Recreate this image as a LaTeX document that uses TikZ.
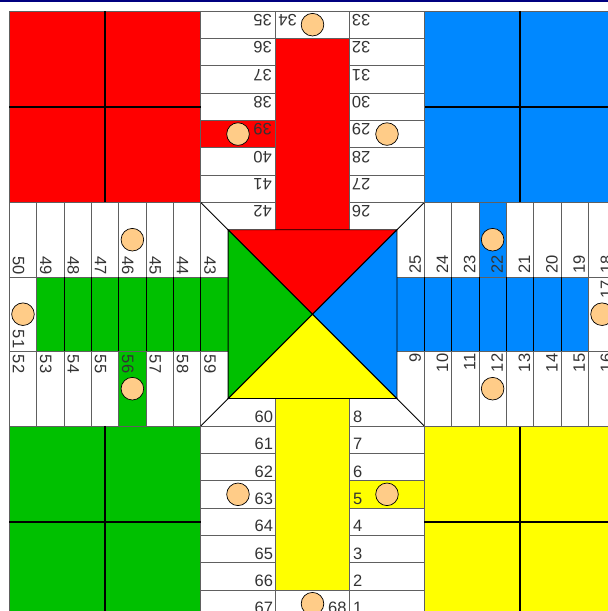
\documentclass[tikz,border=0pt]{standalone}
\usepackage{fontspec}
\setmainfont{Liberation Sans}
\definecolor{pRed}{RGB}{255,0,0}
\definecolor{pBlue}{RGB}{0,136,255}
\definecolor{pGreen}{RGB}{0,192,0}
\definecolor{pYellow}{RGB}{255,255,0}
\definecolor{pSafe}{RGB}{255,204,136}
\definecolor{pNavy}{RGB}{0,0,128}
\definecolor{pLine}{RGB}{96,96,96}
\begin{document}
\begin{tikzpicture}[x=1pt,y=1pt,
  cellline/.style={draw=pLine,line width=0.8pt},
  divline/.style={draw=black,line width=0.8pt},
  homeline/.style={draw=black,line width=2pt},
  edgeline/.style={draw=black,line width=0.8pt},
  safe/.style={circle,draw=black,line width=0.7pt,fill=pSafe,minimum size=22.6pt,inner sep=0pt},
  num/.style={font=\fontsize{16.5}{18}\selectfont,text=black!80,inner sep=0pt,transform shape}]
\useasboundingbox (0,0) rectangle (608,611);
\fill[white] (0,0) rectangle (608,611);
\fill[pNavy] (0,608.7) rectangle (608,611);
\def\s{111.75}\def\c{27.35}\def\w{37.25}\def\H{191.45}
\begin{scope}[shift={(312.5,296.8)}]
% pass 1: fills
\foreach \ang/\col in {0/pYellow,90/pBlue,180/pRed,270/pGreen}{
 \begin{scope}[rotate=\ang]
  \fill[\col] (\s,-\s) rectangle (\s+\H,-\s-\H);
  \fill[\col] (-\w,-\s+\c) rectangle (\w,-\s-6*\c);
  \fill[\col] (\w,-\s-2*\c) rectangle (\s,-\s-3*\c);
  \fill[\col] (-\s+\c,-\s+\c) -- (\s-\c,-\s+\c) -- (0,0) -- cycle;
 \end{scope}}
% pass 2: lines
\foreach \ang/\dv in {0/0,90/1,180/0,270/1}{
 \begin{scope}[rotate=\ang]
  \draw[cellline] (-\s,-\s) -- (-\s,-\s-7*\c);
  \draw[cellline] (\s,-\s) -- (\s,-\s-7*\c);
  \draw[cellline] (-\w,-\s+\c) -- (-\w,-\s-7*\c);
  \draw[cellline] (\w,-\s+\c) -- (\w,-\s-7*\c);
  \foreach \r in {0,...,7}{
    \draw[cellline] (-\s,-\s-\r*\c) -- (-\w,-\s-\r*\c);
    \draw[cellline] (\w,-\s-\r*\c) -- (\s,-\s-\r*\c);}
  \draw[cellline] (-\w,-\s-6*\c) -- (\w,-\s-6*\c);
  \draw[cellline] (-\w,-\s-7*\c) -- (\w,-\s-7*\c);
  \ifnum\dv=1
    \foreach \r in {0,...,5}{\draw[divline] (-\w,-\s-\r*\c) -- (\w,-\s-\r*\c);}
  \fi
  \draw[edgeline] (\s,-\s) -- (\s-\c,-\s+\c);
  \draw[edgeline] (-\s+\c,-\s+\c) -- (\s-\c,-\s+\c) -- (0,0) -- cycle;
  \draw[cellline] (\s,-\s) rectangle (\s+\H,-\s-\H);
  \draw[homeline] (\s+\H/2,-\s) -- (\s+\H/2,-\s-\H);
  \draw[homeline] (\s,-\s-\H/2) -- (\s+\H,-\s-\H/2);
 \end{scope}}
% pass 3: safe circles and numbers
\foreach \ang/\b in {0/0,90/17,180/34,270/51}{
 \begin{scope}[rotate=\ang]
  \node[safe] (sa\b) at (74.5,-\s-2.5*\c) {};
  \node[safe] (sb\b) at (-74.5,-\s-2.5*\c) {};
  \node[safe] (sc\b) at (0,-\s-6.5*\c) {};
  \foreach \r in {0,...,7}{
    \pgfmathtruncatemacro{\nr}{mod(\b+7-\r,68)+1}
    \node[num,anchor=base west] (n\nr) at (\w+3.2,-\s-\r*\c+3.5) {\nr};
    \pgfmathtruncatemacro{\nl}{mod(\b+59+\r,68)+1}
    \node[num,anchor=base east] (n\nl) at (-\w-2,-\s-\r*\c+3.5) {\nl};}
  \pgfmathtruncatemacro{\nm}{mod(\b+67,68)+1}
  \node[num,anchor=base east] (n\nm) at (\w-3,-\s-7*\c+3.5) {\nm};
 \end{scope}}
\end{scope}
\end{tikzpicture}
\end{document}
